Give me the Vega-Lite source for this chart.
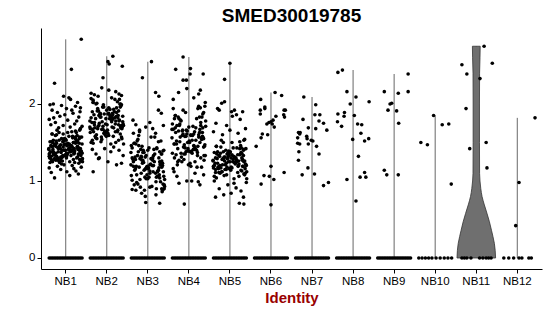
{
"$schema":"https://vega.github.io/schema/vega-lite/v6.json",
"width":501,"height":241,
"autosize":{"type":"none"},
"padding":{"left":41,"top":28,"right":8,"bottom":47},
"background":"white",
"title":{"text":"SMED30019785","fontSize":19,"font":"Liberation Sans","fontWeight":"bold","color":"black","anchor":"middle","frame":"group","offset":6,"baseline":"alphabetic","dy":19},
"config":{"view":{"stroke":null},"font":"Liberation Sans"},
"datasets":{
"vln":[
{"v":0,"lo":10.53,"hi":11.47},{"v":0.1,"lo":10.54,"hi":11.46},{"v":0.19,"lo":10.56,"hi":11.44},{"v":0.28,"lo":10.595,"hi":11.405},{"v":0.36,"lo":10.63,"hi":11.37},{"v":0.47,"lo":10.68,"hi":11.32},{"v":0.58,"lo":10.74,"hi":11.26},{"v":0.7,"lo":10.81,"hi":11.19},{"v":0.8,"lo":10.86,"hi":11.14},{"v":0.9,"lo":10.89,"hi":11.11},{"v":1.0,"lo":10.91,"hi":11.09},{"v":1.1,"lo":10.92,"hi":11.08},{"v":1.5,"lo":10.923,"hi":11.077},{"v":2.0,"lo":10.923,"hi":11.077},{"v":2.4,"lo":10.92,"hi":11.08},{"v":2.6,"lo":10.91,"hi":11.09},{"v":2.75,"lo":10.905,"hi":11.095}
],
"pts":[
{"g":"NB1","j":-0.41,"v":1.41},{"g":"NB1","j":-0.07,"v":1.33},{"g":"NB1","j":0.29,"v":1.52},{"g":"NB1","j":-0.24,"v":1.27},{"g":"NB1","j":0.12,"v":1.46},{"g":"NB1","j":0.38,"v":1.38},{"g":"NB1","j":-0.33,"v":1.61},{"g":"NB1","j":0.02,"v":1.30},{"g":"NB1","j":-0.15,"v":1.44},{"g":"NB1","j":0.21,"v":1.36},{"g":"NB1","j":0.33,"v":1.55},{"g":"NB1","j":-0.38,"v":1.24},{"g":"NB1","j":-0.02,"v":1.48},{"g":"NB1","j":0.17,"v":1.40},{"g":"NB1","j":-0.28,"v":1.34},{"g":"NB1","j":0.08,"v":1.58},{"g":"NB1","j":0.41,"v":1.29},{"g":"NB1","j":-0.19,"v":1.43},{"g":"NB1","j":0.26,"v":1.50},{"g":"NB1","j":-0.11,"v":1.37},{"g":"NB1","j":0.36,"v":1.26},{"g":"NB1","j":-0.35,"v":1.45},{"g":"NB1","j":0.05,"v":1.63},{"g":"NB1","j":-0.22,"v":1.32},{"g":"NB1","j":0.14,"v":1.39},{"g":"NB1","j":-0.04,"v":1.47},{"g":"NB1","j":0.31,"v":1.35},{"g":"NB1","j":-0.30,"v":1.53},{"g":"NB1","j":0.19,"v":1.28},{"g":"NB1","j":-0.13,"v":1.42},{"g":"NB1","j":0.39,"v":1.57},{"g":"NB1","j":-0.09,"v":1.31},{"g":"NB1","j":0.24,"v":1.49},{"g":"NB1","j":-0.36,"v":1.38},{"g":"NB1","j":0.10,"v":1.25},{"g":"NB1","j":-0.17,"v":1.44},{"g":"NB1","j":0.34,"v":1.66},{"g":"NB1","j":-0.26,"v":1.34},{"g":"NB1","j":0.00,"v":1.40},{"g":"NB1","j":0.27,"v":1.51},
{"g":"NB1","j":-0.38,"v":1.51},{"g":"NB1","j":-0.04,"v":1.40},{"g":"NB1","j":0.32,"v":1.34},{"g":"NB1","j":-0.21,"v":1.66},{"g":"NB1","j":0.15,"v":1.44},{"g":"NB1","j":0.41,"v":1.25},{"g":"NB1","j":-0.30,"v":1.38},{"g":"NB1","j":0.05,"v":1.49},{"g":"NB1","j":-0.12,"v":1.31},{"g":"NB1","j":0.24,"v":1.57},{"g":"NB1","j":0.36,"v":1.42},{"g":"NB1","j":-0.35,"v":1.28},{"g":"NB1","j":0.01,"v":1.53},{"g":"NB1","j":0.20,"v":1.35},{"g":"NB1","j":-0.25,"v":1.47},{"g":"NB1","j":0.11,"v":1.39},{"g":"NB1","j":-0.40,"v":1.32},{"g":"NB1","j":-0.16,"v":1.63},{"g":"NB1","j":0.29,"v":1.45},{"g":"NB1","j":-0.08,"v":1.26},{"g":"NB1","j":0.39,"v":1.37},{"g":"NB1","j":-0.32,"v":1.50},{"g":"NB1","j":0.08,"v":1.43},{"g":"NB1","j":-0.19,"v":1.29},{"g":"NB1","j":0.17,"v":1.58},{"g":"NB1","j":-0.01,"v":1.34},{"g":"NB1","j":0.34,"v":1.40},{"g":"NB1","j":-0.27,"v":1.48},{"g":"NB1","j":0.22,"v":1.24},{"g":"NB1","j":-0.10,"v":1.55},{"g":"NB1","j":0.40,"v":1.36},{"g":"NB1","j":-0.06,"v":1.44},{"g":"NB1","j":0.27,"v":1.30},{"g":"NB1","j":-0.33,"v":1.61},{"g":"NB1","j":0.13,"v":1.38},{"g":"NB1","j":-0.14,"v":1.46},{"g":"NB1","j":0.37,"v":1.27},{"g":"NB1","j":-0.23,"v":1.52},{"g":"NB1","j":0.03,"v":1.33},{"g":"NB1","j":0.30,"v":1.41},
{"g":"NB1","j":0.34,"v":1.28},{"g":"NB1","j":-0.12,"v":1.47},{"g":"NB1","j":0.24,"v":1.65},{"g":"NB1","j":-0.29,"v":1.34},{"g":"NB1","j":0.07,"v":1.41},{"g":"NB1","j":0.33,"v":1.49},{"g":"NB1","j":-0.38,"v":1.37},{"g":"NB1","j":-0.03,"v":1.55},{"g":"NB1","j":-0.20,"v":1.30},{"g":"NB1","j":0.16,"v":1.44},{"g":"NB1","j":0.28,"v":1.59},{"g":"NB1","j":0.37,"v":1.33},{"g":"NB1","j":-0.07,"v":1.51},{"g":"NB1","j":0.12,"v":1.40},{"g":"NB1","j":-0.33,"v":1.27},{"g":"NB1","j":0.03,"v":1.46},{"g":"NB1","j":0.36,"v":1.68},{"g":"NB1","j":-0.24,"v":1.36},{"g":"NB1","j":0.21,"v":1.42},{"g":"NB1","j":-0.16,"v":1.53},{"g":"NB1","j":0.31,"v":1.43},{"g":"NB1","j":-0.40,"v":1.35},{"g":"NB1","j":0.00,"v":1.54},{"g":"NB1","j":-0.27,"v":1.29},{"g":"NB1","j":0.09,"v":1.48},{"g":"NB1","j":-0.09,"v":1.40},{"g":"NB1","j":0.26,"v":1.63},{"g":"NB1","j":-0.35,"v":1.32},{"g":"NB1","j":0.14,"v":1.46},{"g":"NB1","j":-0.18,"v":1.38},{"g":"NB1","j":0.34,"v":1.57},{"g":"NB1","j":-0.14,"v":1.26},{"g":"NB1","j":0.19,"v":1.50},{"g":"NB1","j":-0.41,"v":1.42},{"g":"NB1","j":0.05,"v":1.36},{"g":"NB1","j":-0.22,"v":1.60},{"g":"NB1","j":0.29,"v":1.31},{"g":"NB1","j":-0.31,"v":1.45},{"g":"NB1","j":-0.05,"v":1.52},{"g":"NB1","j":0.22,"v":1.39},
{"g":"NB1","j":0.40,"v":1.28},{"g":"NB1","j":0.09,"v":1.42},{"g":"NB1","j":-0.27,"v":1.34},{"g":"NB1","j":0.26,"v":1.53},{"g":"NB1","j":-0.10,"v":1.22},{"g":"NB1","j":-0.36,"v":1.46},{"g":"NB1","j":0.35,"v":1.38},{"g":"NB1","j":0.00,"v":1.32},{"g":"NB1","j":0.17,"v":1.56},{"g":"NB1","j":-0.19,"v":1.27},{"g":"NB1","j":-0.31,"v":1.41},{"g":"NB1","j":0.40,"v":1.48},{"g":"NB1","j":0.04,"v":1.35},{"g":"NB1","j":-0.15,"v":1.24},{"g":"NB1","j":0.30,"v":1.43},{"g":"NB1","j":-0.06,"v":1.61},{"g":"NB1","j":-0.39,"v":1.30},{"g":"NB1","j":0.21,"v":1.37},{"g":"NB1","j":-0.24,"v":1.45},{"g":"NB1","j":0.13,"v":1.33},{"g":"NB1","j":-0.34,"v":1.51},{"g":"NB1","j":0.37,"v":1.26},{"g":"NB1","j":-0.03,"v":1.40},{"g":"NB1","j":0.24,"v":1.55},{"g":"NB1","j":-0.12,"v":1.29},{"g":"NB1","j":0.06,"v":1.47},{"g":"NB1","j":-0.29,"v":1.36},{"g":"NB1","j":0.32,"v":1.23},{"g":"NB1","j":-0.17,"v":1.42},{"g":"NB1","j":0.15,"v":1.64},{"g":"NB1","j":-0.37,"v":1.32},{"g":"NB1","j":0.11,"v":1.38},{"g":"NB1","j":-0.22,"v":1.49},{"g":"NB1","j":0.38,"v":1.39},{"g":"NB1","j":-0.08,"v":1.31},{"g":"NB1","j":0.19,"v":1.50},{"g":"NB1","j":-0.32,"v":1.25},{"g":"NB1","j":0.28,"v":1.44},{"g":"NB1","j":0.02,"v":1.36},{"g":"NB1","j":-0.25,"v":1.59},
{"g":"NB1","j":0.38,"v":2.84},{"g":"NB1","j":0.14,"v":2.45},{"g":"NB1","j":-0.27,"v":2.27},{"g":"NB1","j":-0.38,"v":1.99},{"g":"NB1","j":-0.30,"v":2.00},{"g":"NB1","j":-0.10,"v":1.98},{"g":"NB1","j":0.12,"v":2.06},{"g":"NB1","j":0.24,"v":1.97},{"g":"NB1","j":0.36,"v":1.95},{"g":"NB1","j":-0.05,"v":2.10},{"g":"NB1","j":0.08,"v":2.08},{"g":"NB1","j":-0.33,"v":1.92},{"g":"NB1","j":0.02,"v":1.94},{"g":"NB1","j":0.29,"v":2.02},{"g":"NB1","j":-0.20,"v":1.89},{"g":"NB1","j":0.18,"v":1.88},{"g":"NB1","j":-0.40,"v":1.80},{"g":"NB1","j":-0.14,"v":1.84},{"g":"NB1","j":0.32,"v":1.83},{"g":"NB1","j":0.05,"v":1.79},{"g":"NB1","j":-0.25,"v":1.76},{"g":"NB1","j":0.22,"v":1.74},{"g":"NB1","j":-0.06,"v":1.72},{"g":"NB1","j":0.40,"v":1.71},{"g":"NB1","j":-0.36,"v":1.73},{"g":"NB1","j":0.11,"v":1.70},{"g":"NB1","j":-0.17,"v":1.69},{"g":"NB1","j":0.27,"v":1.78},{"g":"NB1","j":-0.02,"v":1.86},{"g":"NB1","j":0.35,"v":1.90},{"g":"NB1","j":-0.29,"v":1.82},{"g":"NB1","j":0.15,"v":1.92},{"g":"NB1","j":-0.27,"v":1.04},{"g":"NB1","j":-0.35,"v":1.11},{"g":"NB1","j":0.10,"v":1.07},{"g":"NB1","j":0.03,"v":1.12},{"g":"NB1","j":-0.12,"v":1.15},{"g":"NB1","j":0.25,"v":1.13},{"g":"NB1","j":0.38,"v":1.18},{"g":"NB1","j":-0.20,"v":1.19},{"g":"NB1","j":0.16,"v":1.20},{"g":"NB1","j":-0.40,"v":1.17},{"g":"NB1","j":0.31,"v":1.09},{"g":"NB1","j":-0.04,"v":1.21},{"g":"NB1","j":0.20,"v":1.16},

{"g":"NB2","j":-0.41,"v":1.78},{"g":"NB2","j":-0.07,"v":1.62},{"g":"NB2","j":0.29,"v":1.91},{"g":"NB2","j":-0.24,"v":1.55},{"g":"NB2","j":0.12,"v":1.83},{"g":"NB2","j":0.38,"v":1.70},{"g":"NB2","j":-0.33,"v":2.02},{"g":"NB2","j":0.02,"v":1.66},{"g":"NB2","j":-0.15,"v":1.87},{"g":"NB2","j":0.21,"v":1.74},{"g":"NB2","j":0.33,"v":1.96},{"g":"NB2","j":-0.38,"v":1.50},{"g":"NB2","j":-0.02,"v":1.81},{"g":"NB2","j":0.17,"v":1.69},{"g":"NB2","j":-0.28,"v":1.58},{"g":"NB2","j":0.08,"v":1.93},{"g":"NB2","j":0.41,"v":1.72},{"g":"NB2","j":-0.19,"v":1.85},{"g":"NB2","j":0.26,"v":1.64},{"g":"NB2","j":-0.11,"v":1.77},{"g":"NB2","j":0.36,"v":1.99},{"g":"NB2","j":-0.35,"v":1.53},{"g":"NB2","j":0.05,"v":1.88},{"g":"NB2","j":-0.22,"v":1.68},{"g":"NB2","j":0.14,"v":1.80},{"g":"NB2","j":-0.04,"v":1.60},{"g":"NB2","j":0.31,"v":2.06},{"g":"NB2","j":-0.30,"v":1.73},{"g":"NB2","j":0.19,"v":1.90},{"g":"NB2","j":-0.13,"v":1.57},{"g":"NB2","j":0.39,"v":1.84},{"g":"NB2","j":-0.09,"v":1.67},{"g":"NB2","j":0.24,"v":1.95},{"g":"NB2","j":-0.36,"v":1.76},{"g":"NB2","j":0.10,"v":1.48},{"g":"NB2","j":-0.17,"v":1.86},{"g":"NB2","j":0.34,"v":1.71},{"g":"NB2","j":-0.26,"v":2.00},{"g":"NB2","j":0.00,"v":1.63},{"g":"NB2","j":0.27,"v":1.82},
{"g":"NB2","j":-0.38,"v":1.82},{"g":"NB2","j":-0.04,"v":1.63},{"g":"NB2","j":0.32,"v":2.00},{"g":"NB2","j":-0.21,"v":1.71},{"g":"NB2","j":0.15,"v":1.86},{"g":"NB2","j":0.41,"v":1.48},{"g":"NB2","j":-0.30,"v":1.76},{"g":"NB2","j":0.05,"v":1.95},{"g":"NB2","j":-0.12,"v":1.67},{"g":"NB2","j":0.24,"v":1.84},{"g":"NB2","j":0.36,"v":1.57},{"g":"NB2","j":-0.35,"v":1.90},{"g":"NB2","j":0.01,"v":1.73},{"g":"NB2","j":0.20,"v":2.06},{"g":"NB2","j":-0.25,"v":1.60},{"g":"NB2","j":0.11,"v":1.80},{"g":"NB2","j":-0.40,"v":1.68},{"g":"NB2","j":-0.16,"v":1.88},{"g":"NB2","j":0.29,"v":1.53},{"g":"NB2","j":-0.08,"v":1.99},{"g":"NB2","j":0.39,"v":1.77},{"g":"NB2","j":-0.32,"v":1.64},{"g":"NB2","j":0.08,"v":1.85},{"g":"NB2","j":-0.19,"v":1.72},{"g":"NB2","j":0.17,"v":1.93},{"g":"NB2","j":-0.01,"v":1.58},{"g":"NB2","j":0.34,"v":1.69},{"g":"NB2","j":-0.27,"v":1.81},{"g":"NB2","j":0.22,"v":1.50},{"g":"NB2","j":-0.10,"v":1.96},{"g":"NB2","j":0.40,"v":1.74},{"g":"NB2","j":-0.06,"v":1.87},{"g":"NB2","j":0.27,"v":1.66},{"g":"NB2","j":-0.33,"v":2.02},{"g":"NB2","j":0.13,"v":1.70},{"g":"NB2","j":-0.14,"v":1.83},{"g":"NB2","j":0.37,"v":1.55},{"g":"NB2","j":-0.23,"v":1.91},{"g":"NB2","j":0.03,"v":1.62},{"g":"NB2","j":0.30,"v":1.78},
{"g":"NB2","j":0.34,"v":2.00},{"g":"NB2","j":-0.12,"v":1.54},{"g":"NB2","j":0.24,"v":1.89},{"g":"NB2","j":-0.29,"v":1.69},{"g":"NB2","j":0.07,"v":1.81},{"g":"NB2","j":0.33,"v":1.61},{"g":"NB2","j":-0.38,"v":2.07},{"g":"NB2","j":-0.03,"v":1.74},{"g":"NB2","j":-0.20,"v":1.91},{"g":"NB2","j":0.16,"v":1.58},{"g":"NB2","j":0.28,"v":1.85},{"g":"NB2","j":0.37,"v":1.68},{"g":"NB2","j":-0.07,"v":1.96},{"g":"NB2","j":0.12,"v":1.77},{"g":"NB2","j":-0.33,"v":1.49},{"g":"NB2","j":0.03,"v":1.87},{"g":"NB2","j":0.36,"v":1.72},{"g":"NB2","j":-0.24,"v":2.01},{"g":"NB2","j":0.21,"v":1.64},{"g":"NB2","j":-0.16,"v":1.83},{"g":"NB2","j":0.31,"v":1.79},{"g":"NB2","j":-0.40,"v":1.63},{"g":"NB2","j":0.00,"v":1.92},{"g":"NB2","j":-0.27,"v":1.56},{"g":"NB2","j":0.09,"v":1.84},{"g":"NB2","j":-0.09,"v":1.71},{"g":"NB2","j":0.26,"v":2.03},{"g":"NB2","j":-0.35,"v":1.67},{"g":"NB2","j":0.14,"v":1.88},{"g":"NB2","j":-0.18,"v":1.75},{"g":"NB2","j":0.34,"v":1.97},{"g":"NB2","j":-0.14,"v":1.51},{"g":"NB2","j":0.19,"v":1.82},{"g":"NB2","j":-0.41,"v":1.70},{"g":"NB2","j":0.05,"v":1.59},{"g":"NB2","j":-0.22,"v":1.94},{"g":"NB2","j":0.29,"v":1.73},{"g":"NB2","j":-0.31,"v":1.86},{"g":"NB2","j":-0.05,"v":1.65},{"g":"NB2","j":0.22,"v":1.78},
{"g":"NB2","j":0.15,"v":2.62},{"g":"NB2","j":0.03,"v":2.55},{"g":"NB2","j":0.06,"v":2.52},{"g":"NB2","j":0.38,"v":2.49},{"g":"NB2","j":-0.09,"v":2.34},{"g":"NB2","j":-0.38,"v":2.14},{"g":"NB2","j":-0.30,"v":2.12},{"g":"NB2","j":-0.21,"v":2.10},{"g":"NB2","j":0.30,"v":2.13},{"g":"NB2","j":0.36,"v":2.11},{"g":"NB2","j":0.05,"v":2.18},{"g":"NB2","j":-0.12,"v":2.21},{"g":"NB2","j":0.22,"v":2.16},{"g":"NB2","j":-0.33,"v":2.05},{"g":"NB2","j":0.12,"v":2.08},{"g":"NB2","j":-0.35,"v":1.41},{"g":"NB2","j":-0.26,"v":1.35},{"g":"NB2","j":-0.18,"v":1.30},{"g":"NB2","j":-0.33,"v":1.12},{"g":"NB2","j":0.24,"v":1.21},{"g":"NB2","j":0.36,"v":1.23},{"g":"NB2","j":0.03,"v":1.25},{"g":"NB2","j":0.10,"v":1.38},{"g":"NB2","j":-0.05,"v":1.42},{"g":"NB2","j":0.30,"v":1.40},{"g":"NB2","j":0.40,"v":1.33},{"g":"NB2","j":-0.20,"v":1.29},{"g":"NB2","j":0.17,"v":1.44},

{"g":"NB3","j":-0.41,"v":1.21},{"g":"NB3","j":-0.07,"v":1.05},{"g":"NB3","j":0.29,"v":1.38},{"g":"NB3","j":-0.24,"v":0.96},{"g":"NB3","j":0.12,"v":1.27},{"g":"NB3","j":0.38,"v":1.12},{"g":"NB3","j":-0.33,"v":1.49},{"g":"NB3","j":0.02,"v":1.17},{"g":"NB3","j":-0.15,"v":1.31},{"g":"NB3","j":0.21,"v":0.90},{"g":"NB3","j":0.33,"v":1.24},{"g":"NB3","j":-0.38,"v":1.43},{"g":"NB3","j":-0.02,"v":1.08},{"g":"NB3","j":0.17,"v":1.35},{"g":"NB3","j":-0.28,"v":1.19},{"g":"NB3","j":0.08,"v":1.57},{"g":"NB3","j":0.41,"v":1.02},{"g":"NB3","j":-0.19,"v":1.29},{"g":"NB3","j":0.26,"v":1.14},{"g":"NB3","j":-0.11,"v":1.40},{"g":"NB3","j":0.36,"v":0.88},{"g":"NB3","j":-0.35,"v":1.25},{"g":"NB3","j":0.05,"v":1.10},{"g":"NB3","j":-0.22,"v":1.46},{"g":"NB3","j":0.14,"v":1.20},{"g":"NB3","j":-0.04,"v":1.33},{"g":"NB3","j":0.31,"v":0.99},{"g":"NB3","j":-0.30,"v":1.16},{"g":"NB3","j":0.19,"v":1.62},{"g":"NB3","j":-0.13,"v":1.23},{"g":"NB3","j":0.39,"v":1.06},{"g":"NB3","j":-0.09,"v":1.37},{"g":"NB3","j":0.24,"v":1.13},{"g":"NB3","j":-0.36,"v":1.28},{"g":"NB3","j":0.10,"v":0.93},{"g":"NB3","j":-0.17,"v":1.41},{"g":"NB3","j":0.34,"v":1.18},{"g":"NB3","j":-0.26,"v":1.52},{"g":"NB3","j":0.00,"v":1.03},{"g":"NB3","j":0.27,"v":1.30},
{"g":"NB3","j":-0.38,"v":1.30},{"g":"NB3","j":-0.04,"v":1.03},{"g":"NB3","j":0.32,"v":1.52},{"g":"NB3","j":-0.21,"v":1.18},{"g":"NB3","j":0.15,"v":1.41},{"g":"NB3","j":0.41,"v":0.93},{"g":"NB3","j":-0.30,"v":1.28},{"g":"NB3","j":0.05,"v":1.13},{"g":"NB3","j":-0.12,"v":1.37},{"g":"NB3","j":0.24,"v":1.06},{"g":"NB3","j":0.36,"v":1.23},{"g":"NB3","j":-0.35,"v":1.62},{"g":"NB3","j":0.01,"v":1.16},{"g":"NB3","j":0.20,"v":0.99},{"g":"NB3","j":-0.25,"v":1.33},{"g":"NB3","j":0.11,"v":1.20},{"g":"NB3","j":-0.40,"v":1.46},{"g":"NB3","j":-0.16,"v":1.10},{"g":"NB3","j":0.29,"v":1.25},{"g":"NB3","j":-0.08,"v":0.88},{"g":"NB3","j":0.39,"v":1.40},{"g":"NB3","j":-0.32,"v":1.14},{"g":"NB3","j":0.08,"v":1.29},{"g":"NB3","j":-0.19,"v":1.02},{"g":"NB3","j":0.17,"v":1.57},{"g":"NB3","j":-0.01,"v":1.19},{"g":"NB3","j":0.34,"v":1.35},{"g":"NB3","j":-0.27,"v":1.08},{"g":"NB3","j":0.22,"v":1.43},{"g":"NB3","j":-0.10,"v":1.24},{"g":"NB3","j":0.40,"v":0.90},{"g":"NB3","j":-0.06,"v":1.31},{"g":"NB3","j":0.27,"v":1.17},{"g":"NB3","j":-0.33,"v":1.49},{"g":"NB3","j":0.13,"v":1.12},{"g":"NB3","j":-0.14,"v":1.27},{"g":"NB3","j":0.37,"v":0.96},{"g":"NB3","j":-0.23,"v":1.38},{"g":"NB3","j":0.03,"v":1.05},{"g":"NB3","j":0.30,"v":1.21},
{"g":"NB3","j":0.34,"v":0.90},{"g":"NB3","j":-0.12,"v":1.27},{"g":"NB3","j":0.24,"v":1.12},{"g":"NB3","j":-0.29,"v":1.48},{"g":"NB3","j":0.07,"v":1.22},{"g":"NB3","j":0.33,"v":1.35},{"g":"NB3","j":-0.38,"v":1.01},{"g":"NB3","j":-0.03,"v":1.18},{"g":"NB3","j":-0.20,"v":1.64},{"g":"NB3","j":0.16,"v":1.25},{"g":"NB3","j":0.28,"v":1.08},{"g":"NB3","j":0.37,"v":1.39},{"g":"NB3","j":-0.07,"v":1.15},{"g":"NB3","j":0.12,"v":1.30},{"g":"NB3","j":-0.33,"v":0.95},{"g":"NB3","j":0.03,"v":1.43},{"g":"NB3","j":0.36,"v":1.20},{"g":"NB3","j":-0.24,"v":1.54},{"g":"NB3","j":0.21,"v":1.05},{"g":"NB3","j":-0.16,"v":1.32},{"g":"NB3","j":0.31,"v":1.23},{"g":"NB3","j":-0.40,"v":1.07},{"g":"NB3","j":0.00,"v":1.40},{"g":"NB3","j":-0.27,"v":0.98},{"g":"NB3","j":0.09,"v":1.29},{"g":"NB3","j":-0.09,"v":1.14},{"g":"NB3","j":0.26,"v":1.51},{"g":"NB3","j":-0.35,"v":1.19},{"g":"NB3","j":0.14,"v":1.33},{"g":"NB3","j":-0.18,"v":0.92},{"g":"NB3","j":0.34,"v":1.26},{"g":"NB3","j":-0.14,"v":1.45},{"g":"NB3","j":0.19,"v":1.10},{"g":"NB3","j":-0.41,"v":1.37},{"g":"NB3","j":0.05,"v":1.21},{"g":"NB3","j":-0.22,"v":1.59},{"g":"NB3","j":0.29,"v":1.04},{"g":"NB3","j":-0.31,"v":1.31},{"g":"NB3","j":-0.05,"v":1.16},{"g":"NB3","j":0.22,"v":1.42},
{"g":"NB3","j":0.09,"v":2.55},{"g":"NB3","j":-0.13,"v":2.34},{"g":"NB3","j":0.19,"v":2.15},{"g":"NB3","j":0.27,"v":2.10},{"g":"NB3","j":0.26,"v":1.92},{"g":"NB3","j":0.33,"v":1.88},{"g":"NB3","j":-0.36,"v":1.79},{"g":"NB3","j":-0.29,"v":1.73},{"g":"NB3","j":0.05,"v":1.76},{"g":"NB3","j":-0.05,"v":1.70},{"g":"NB3","j":0.12,"v":1.68},{"g":"NB3","j":-0.20,"v":1.66},{"g":"NB3","j":0.38,"v":1.72},{"g":"NB3","j":-0.05,"v":0.72},{"g":"NB3","j":0.29,"v":0.71},{"g":"NB3","j":-0.06,"v":0.80},{"g":"NB3","j":-0.38,"v":0.89},{"g":"NB3","j":-0.29,"v":0.88},{"g":"NB3","j":0.20,"v":0.82},{"g":"NB3","j":0.35,"v":0.86},{"g":"NB3","j":-0.15,"v":0.84},{"g":"NB3","j":0.05,"v":0.92},{"g":"NB3","j":0.40,"v":0.95},

{"g":"NB4","j":-0.41,"v":1.56},{"g":"NB4","j":-0.07,"v":1.38},{"g":"NB4","j":0.29,"v":1.72},{"g":"NB4","j":-0.24,"v":1.27},{"g":"NB4","j":0.12,"v":1.61},{"g":"NB4","j":0.38,"v":1.45},{"g":"NB4","j":-0.33,"v":1.85},{"g":"NB4","j":0.02,"v":1.50},{"g":"NB4","j":-0.15,"v":1.66},{"g":"NB4","j":0.21,"v":1.33},{"g":"NB4","j":0.33,"v":1.58},{"g":"NB4","j":-0.38,"v":1.94},{"g":"NB4","j":-0.02,"v":1.42},{"g":"NB4","j":0.17,"v":1.69},{"g":"NB4","j":-0.28,"v":1.21},{"g":"NB4","j":0.08,"v":1.53},{"g":"NB4","j":0.41,"v":1.78},{"g":"NB4","j":-0.19,"v":1.36},{"g":"NB4","j":0.26,"v":1.63},{"g":"NB4","j":-0.11,"v":1.47},{"g":"NB4","j":0.36,"v":1.89},{"g":"NB4","j":-0.35,"v":1.30},{"g":"NB4","j":0.05,"v":1.59},{"g":"NB4","j":-0.22,"v":1.74},{"g":"NB4","j":0.14,"v":1.41},{"g":"NB4","j":-0.04,"v":1.65},{"g":"NB4","j":0.31,"v":1.18},{"g":"NB4","j":-0.30,"v":1.52},{"g":"NB4","j":0.19,"v":1.81},{"g":"NB4","j":-0.13,"v":1.44},{"g":"NB4","j":0.39,"v":1.97},{"g":"NB4","j":-0.09,"v":1.35},{"g":"NB4","j":0.24,"v":1.60},{"g":"NB4","j":-0.36,"v":1.48},{"g":"NB4","j":0.10,"v":1.71},{"g":"NB4","j":-0.17,"v":1.25},{"g":"NB4","j":0.34,"v":1.57},{"g":"NB4","j":-0.26,"v":1.83},{"g":"NB4","j":0.00,"v":1.39},{"g":"NB4","j":0.27,"v":1.67},
{"g":"NB4","j":-0.38,"v":1.67},{"g":"NB4","j":-0.04,"v":1.39},{"g":"NB4","j":0.32,"v":1.83},{"g":"NB4","j":-0.21,"v":1.57},{"g":"NB4","j":0.15,"v":1.25},{"g":"NB4","j":0.41,"v":1.71},{"g":"NB4","j":-0.30,"v":1.48},{"g":"NB4","j":0.05,"v":1.60},{"g":"NB4","j":-0.12,"v":1.35},{"g":"NB4","j":0.24,"v":1.97},{"g":"NB4","j":0.36,"v":1.44},{"g":"NB4","j":-0.35,"v":1.81},{"g":"NB4","j":0.01,"v":1.52},{"g":"NB4","j":0.20,"v":1.18},{"g":"NB4","j":-0.25,"v":1.65},{"g":"NB4","j":0.11,"v":1.41},{"g":"NB4","j":-0.40,"v":1.74},{"g":"NB4","j":-0.16,"v":1.59},{"g":"NB4","j":0.29,"v":1.30},{"g":"NB4","j":-0.08,"v":1.89},{"g":"NB4","j":0.39,"v":1.47},{"g":"NB4","j":-0.32,"v":1.63},{"g":"NB4","j":0.08,"v":1.36},{"g":"NB4","j":-0.19,"v":1.78},{"g":"NB4","j":0.17,"v":1.53},{"g":"NB4","j":-0.01,"v":1.21},{"g":"NB4","j":0.34,"v":1.69},{"g":"NB4","j":-0.27,"v":1.42},{"g":"NB4","j":0.22,"v":1.94},{"g":"NB4","j":-0.10,"v":1.58},{"g":"NB4","j":0.40,"v":1.33},{"g":"NB4","j":-0.06,"v":1.66},{"g":"NB4","j":0.27,"v":1.50},{"g":"NB4","j":-0.33,"v":1.85},{"g":"NB4","j":0.13,"v":1.45},{"g":"NB4","j":-0.14,"v":1.61},{"g":"NB4","j":0.37,"v":1.27},{"g":"NB4","j":-0.23,"v":1.72},{"g":"NB4","j":0.03,"v":1.38},{"g":"NB4","j":0.30,"v":1.56},
{"g":"NB4","j":0.34,"v":1.87},{"g":"NB4","j":-0.12,"v":1.28},{"g":"NB4","j":0.24,"v":1.57},{"g":"NB4","j":-0.29,"v":1.72},{"g":"NB4","j":0.07,"v":1.39},{"g":"NB4","j":0.33,"v":1.63},{"g":"NB4","j":-0.38,"v":1.16},{"g":"NB4","j":-0.03,"v":1.50},{"g":"NB4","j":-0.20,"v":1.79},{"g":"NB4","j":0.16,"v":1.42},{"g":"NB4","j":0.28,"v":1.95},{"g":"NB4","j":0.37,"v":1.33},{"g":"NB4","j":-0.07,"v":1.58},{"g":"NB4","j":0.12,"v":1.46},{"g":"NB4","j":-0.33,"v":1.69},{"g":"NB4","j":0.03,"v":1.23},{"g":"NB4","j":0.36,"v":1.55},{"g":"NB4","j":-0.24,"v":1.81},{"g":"NB4","j":0.21,"v":1.37},{"g":"NB4","j":-0.16,"v":1.65},{"g":"NB4","j":0.31,"v":1.54},{"g":"NB4","j":-0.40,"v":1.36},{"g":"NB4","j":0.00,"v":1.70},{"g":"NB4","j":-0.27,"v":1.25},{"g":"NB4","j":0.09,"v":1.59},{"g":"NB4","j":-0.09,"v":1.43},{"g":"NB4","j":0.26,"v":1.83},{"g":"NB4","j":-0.35,"v":1.48},{"g":"NB4","j":0.14,"v":1.64},{"g":"NB4","j":-0.18,"v":1.31},{"g":"NB4","j":0.34,"v":1.56},{"g":"NB4","j":-0.14,"v":1.92},{"g":"NB4","j":0.19,"v":1.40},{"g":"NB4","j":-0.41,"v":1.67},{"g":"NB4","j":0.05,"v":1.19},{"g":"NB4","j":-0.22,"v":1.51},{"g":"NB4","j":0.29,"v":1.76},{"g":"NB4","j":-0.31,"v":1.34},{"g":"NB4","j":-0.05,"v":1.61},{"g":"NB4","j":0.22,"v":1.45},
{"g":"NB4","j":-0.14,"v":2.61},{"g":"NB4","j":-0.32,"v":2.45},{"g":"NB4","j":0.04,"v":2.46},{"g":"NB4","j":0.03,"v":2.39},{"g":"NB4","j":-0.14,"v":2.31},{"g":"NB4","j":-0.06,"v":2.31},{"g":"NB4","j":0.35,"v":2.39},{"g":"NB4","j":0.28,"v":2.18},{"g":"NB4","j":0.24,"v":2.13},{"g":"NB4","j":-0.25,"v":2.15},{"g":"NB4","j":-0.38,"v":2.06},{"g":"NB4","j":0.12,"v":2.08},{"g":"NB4","j":-0.05,"v":2.20},{"g":"NB4","j":0.40,"v":2.02},{"g":"NB4","j":-0.11,"v":0.70},{"g":"NB4","j":-0.24,"v":0.97},{"g":"NB4","j":-0.29,"v":1.06},{"g":"NB4","j":0.23,"v":0.99},{"g":"NB4","j":0.27,"v":0.95},{"g":"NB4","j":-0.05,"v":1.00},{"g":"NB4","j":0.07,"v":1.00},{"g":"NB4","j":0.36,"v":1.08},{"g":"NB4","j":-0.36,"v":1.12},{"g":"NB4","j":0.15,"v":1.10},

{"g":"NB5","j":-0.41,"v":1.27},{"g":"NB5","j":-0.07,"v":1.18},{"g":"NB5","j":0.29,"v":1.36},{"g":"NB5","j":-0.24,"v":1.10},{"g":"NB5","j":0.12,"v":1.31},{"g":"NB5","j":0.38,"v":1.22},{"g":"NB5","j":-0.33,"v":1.45},{"g":"NB5","j":0.02,"v":1.14},{"g":"NB5","j":-0.15,"v":1.29},{"g":"NB5","j":0.21,"v":1.20},{"g":"NB5","j":0.33,"v":1.40},{"g":"NB5","j":-0.38,"v":1.06},{"g":"NB5","j":-0.02,"v":1.33},{"g":"NB5","j":0.17,"v":1.25},{"g":"NB5","j":-0.28,"v":1.16},{"g":"NB5","j":0.08,"v":1.43},{"g":"NB5","j":0.41,"v":1.12},{"g":"NB5","j":-0.19,"v":1.28},{"g":"NB5","j":0.26,"v":1.35},{"g":"NB5","j":-0.11,"v":1.21},{"g":"NB5","j":0.36,"v":1.08},{"g":"NB5","j":-0.35,"v":1.30},{"g":"NB5","j":0.05,"v":1.50},{"g":"NB5","j":-0.22,"v":1.17},{"g":"NB5","j":0.14,"v":1.24},{"g":"NB5","j":-0.04,"v":1.32},{"g":"NB5","j":0.31,"v":1.19},{"g":"NB5","j":-0.30,"v":1.38},{"g":"NB5","j":0.19,"v":1.11},{"g":"NB5","j":-0.13,"v":1.26},{"g":"NB5","j":0.39,"v":1.42},{"g":"NB5","j":-0.09,"v":1.15},{"g":"NB5","j":0.24,"v":1.34},{"g":"NB5","j":-0.36,"v":1.23},{"g":"NB5","j":0.10,"v":1.03},{"g":"NB5","j":-0.17,"v":1.29},{"g":"NB5","j":0.34,"v":1.53},{"g":"NB5","j":-0.26,"v":1.19},{"g":"NB5","j":0.00,"v":1.25},{"g":"NB5","j":0.27,"v":1.37},
{"g":"NB5","j":-0.38,"v":1.37},{"g":"NB5","j":-0.04,"v":1.25},{"g":"NB5","j":0.32,"v":1.19},{"g":"NB5","j":-0.21,"v":1.53},{"g":"NB5","j":0.15,"v":1.29},{"g":"NB5","j":0.41,"v":1.03},{"g":"NB5","j":-0.30,"v":1.23},{"g":"NB5","j":0.05,"v":1.34},{"g":"NB5","j":-0.12,"v":1.15},{"g":"NB5","j":0.24,"v":1.42},{"g":"NB5","j":0.36,"v":1.26},{"g":"NB5","j":-0.35,"v":1.11},{"g":"NB5","j":0.01,"v":1.38},{"g":"NB5","j":0.20,"v":1.19},{"g":"NB5","j":-0.25,"v":1.32},{"g":"NB5","j":0.11,"v":1.24},{"g":"NB5","j":-0.40,"v":1.17},{"g":"NB5","j":-0.16,"v":1.50},{"g":"NB5","j":0.29,"v":1.30},{"g":"NB5","j":-0.08,"v":1.08},{"g":"NB5","j":0.39,"v":1.21},{"g":"NB5","j":-0.32,"v":1.35},{"g":"NB5","j":0.08,"v":1.28},{"g":"NB5","j":-0.19,"v":1.12},{"g":"NB5","j":0.17,"v":1.43},{"g":"NB5","j":-0.01,"v":1.16},{"g":"NB5","j":0.34,"v":1.25},{"g":"NB5","j":-0.27,"v":1.33},{"g":"NB5","j":0.22,"v":1.06},{"g":"NB5","j":-0.10,"v":1.40},{"g":"NB5","j":0.40,"v":1.20},{"g":"NB5","j":-0.06,"v":1.29},{"g":"NB5","j":0.27,"v":1.14},{"g":"NB5","j":-0.33,"v":1.45},{"g":"NB5","j":0.13,"v":1.22},{"g":"NB5","j":-0.14,"v":1.31},{"g":"NB5","j":0.37,"v":1.10},{"g":"NB5","j":-0.23,"v":1.36},{"g":"NB5","j":0.03,"v":1.18},{"g":"NB5","j":0.30,"v":1.27},
{"g":"NB5","j":0.34,"v":1.09},{"g":"NB5","j":-0.12,"v":1.31},{"g":"NB5","j":0.24,"v":1.51},{"g":"NB5","j":-0.29,"v":1.18},{"g":"NB5","j":0.07,"v":1.25},{"g":"NB5","j":0.33,"v":1.33},{"g":"NB5","j":-0.38,"v":1.20},{"g":"NB5","j":-0.03,"v":1.39},{"g":"NB5","j":-0.20,"v":1.12},{"g":"NB5","j":0.16,"v":1.27},{"g":"NB5","j":0.28,"v":1.43},{"g":"NB5","j":0.37,"v":1.16},{"g":"NB5","j":-0.07,"v":1.35},{"g":"NB5","j":0.12,"v":1.24},{"g":"NB5","j":-0.33,"v":1.04},{"g":"NB5","j":0.03,"v":1.30},{"g":"NB5","j":0.36,"v":1.54},{"g":"NB5","j":-0.24,"v":1.20},{"g":"NB5","j":0.21,"v":1.26},{"g":"NB5","j":-0.16,"v":1.38},{"g":"NB5","j":0.31,"v":1.28},{"g":"NB5","j":-0.40,"v":1.19},{"g":"NB5","j":0.00,"v":1.37},{"g":"NB5","j":-0.27,"v":1.11},{"g":"NB5","j":0.09,"v":1.32},{"g":"NB5","j":-0.09,"v":1.23},{"g":"NB5","j":0.26,"v":1.46},{"g":"NB5","j":-0.35,"v":1.15},{"g":"NB5","j":0.14,"v":1.30},{"g":"NB5","j":-0.18,"v":1.21},{"g":"NB5","j":0.34,"v":1.41},{"g":"NB5","j":-0.14,"v":1.07},{"g":"NB5","j":0.19,"v":1.34},{"g":"NB5","j":-0.41,"v":1.26},{"g":"NB5","j":0.05,"v":1.17},{"g":"NB5","j":-0.22,"v":1.44},{"g":"NB5","j":0.29,"v":1.13},{"g":"NB5","j":-0.31,"v":1.29},{"g":"NB5","j":-0.05,"v":1.36},{"g":"NB5","j":0.22,"v":1.22},
{"g":"NB5","j":0.00,"v":2.53},{"g":"NB5","j":-0.13,"v":2.32},{"g":"NB5","j":0.11,"v":1.92},{"g":"NB5","j":0.04,"v":1.90},{"g":"NB5","j":0.16,"v":1.86},{"g":"NB5","j":0.06,"v":1.84},{"g":"NB5","j":0.31,"v":1.90},{"g":"NB5","j":-0.30,"v":1.94},{"g":"NB5","j":-0.26,"v":1.92},{"g":"NB5","j":-0.34,"v":1.75},{"g":"NB5","j":-0.20,"v":2.01},{"g":"NB5","j":-0.13,"v":2.03},{"g":"NB5","j":0.25,"v":1.80},{"g":"NB5","j":-0.08,"v":1.72},{"g":"NB5","j":0.38,"v":1.68},{"g":"NB5","j":-0.40,"v":1.64},{"g":"NB5","j":0.20,"v":1.62},{"g":"NB5","j":-0.18,"v":1.60},{"g":"NB5","j":0.00,"v":1.66},{"g":"NB5","j":-0.35,"v":0.79},{"g":"NB5","j":0.23,"v":0.71},{"g":"NB5","j":0.34,"v":0.70},{"g":"NB5","j":-0.15,"v":0.82},{"g":"NB5","j":0.03,"v":0.84},{"g":"NB5","j":0.33,"v":0.79},{"g":"NB5","j":0.27,"v":0.87},{"g":"NB5","j":0.15,"v":0.91},{"g":"NB5","j":-0.26,"v":0.90},{"g":"NB5","j":-0.05,"v":0.95},{"g":"NB5","j":0.40,"v":0.98},{"g":"NB5","j":-0.38,"v":1.00},{"g":"NB5","j":0.10,"v":0.97},

{"g":"NB6","j":-0.25,"v":2.06},{"g":"NB6","j":-0.26,"v":1.92},{"g":"NB6","j":-0.26,"v":1.87},{"g":"NB6","j":-0.15,"v":1.96},{"g":"NB6","j":-0.15,"v":1.94},{"g":"NB6","j":0.10,"v":2.15},{"g":"NB6","j":0.26,"v":2.11},{"g":"NB6","j":0.32,"v":1.92},{"g":"NB6","j":0.35,"v":1.92},{"g":"NB6","j":0.31,"v":1.86},{"g":"NB6","j":0.33,"v":1.83},{"g":"NB6","j":0.12,"v":1.84},{"g":"NB6","j":-0.10,"v":1.74},{"g":"NB6","j":-0.05,"v":1.76},{"g":"NB6","j":0.00,"v":1.77},{"g":"NB6","j":0.05,"v":1.79},{"g":"NB6","j":0.03,"v":1.74},{"g":"NB6","j":0.08,"v":1.70},{"g":"NB6","j":-0.21,"v":1.61},{"g":"NB6","j":-0.24,"v":1.56},{"g":"NB6","j":-0.08,"v":1.60},{"g":"NB6","j":-0.36,"v":1.45},{"g":"NB6","j":0.00,"v":1.19},{"g":"NB6","j":-0.17,"v":1.07},{"g":"NB6","j":-0.04,"v":1.06},{"g":"NB6","j":0.07,"v":1.02},{"g":"NB6","j":-0.24,"v":0.96},{"g":"NB6","j":0.32,"v":1.11},{"g":"NB6","j":0.00,"v":0.69},

{"g":"NB7","j":-0.20,"v":2.09},{"g":"NB7","j":0.09,"v":1.99},{"g":"NB7","j":0.07,"v":1.86},{"g":"NB7","j":0.19,"v":1.86},{"g":"NB7","j":-0.22,"v":1.80},{"g":"NB7","j":0.17,"v":1.78},{"g":"NB7","j":0.28,"v":1.75},{"g":"NB7","j":-0.09,"v":1.69},{"g":"NB7","j":0.09,"v":1.68},{"g":"NB7","j":0.36,"v":1.66},{"g":"NB7","j":-0.33,"v":1.63},{"g":"NB7","j":-0.29,"v":1.63},{"g":"NB7","j":-0.30,"v":1.61},{"g":"NB7","j":-0.35,"v":1.56},{"g":"NB7","j":-0.13,"v":1.58},{"g":"NB7","j":-0.12,"v":1.55},{"g":"NB7","j":-0.02,"v":1.53},{"g":"NB7","j":0.02,"v":1.52},{"g":"NB7","j":-0.35,"v":1.49},{"g":"NB7","j":-0.30,"v":1.48},{"g":"NB7","j":-0.09,"v":1.48},{"g":"NB7","j":0.11,"v":1.45},{"g":"NB7","j":-0.32,"v":1.38},{"g":"NB7","j":0.17,"v":1.35},{"g":"NB7","j":-0.33,"v":1.27},{"g":"NB7","j":-0.10,"v":1.17},{"g":"NB7","j":0.06,"v":1.09},{"g":"NB7","j":-0.24,"v":1.08},{"g":"NB7","j":0.28,"v":0.94},{"g":"NB7","j":0.40,"v":0.98},

{"g":"NB8","j":-0.37,"v":2.41},{"g":"NB8","j":-0.26,"v":2.44},{"g":"NB8","j":-0.15,"v":2.16},{"g":"NB8","j":0.07,"v":2.09},{"g":"NB8","j":0.39,"v":2.03},{"g":"NB8","j":-0.07,"v":2.00},{"g":"NB8","j":-0.37,"v":1.87},{"g":"NB8","j":-0.21,"v":1.89},{"g":"NB8","j":-0.22,"v":1.84},{"g":"NB8","j":0.03,"v":1.85},{"g":"NB8","j":-0.38,"v":1.77},{"g":"NB8","j":-0.28,"v":1.71},{"g":"NB8","j":0.11,"v":1.74},{"g":"NB8","j":0.21,"v":1.73},{"g":"NB8","j":0.19,"v":1.62},{"g":"NB8","j":-0.01,"v":1.54},{"g":"NB8","j":0.38,"v":1.55},{"g":"NB8","j":0.28,"v":1.52},{"g":"NB8","j":0.13,"v":1.32},{"g":"NB8","j":-0.15,"v":1.02},{"g":"NB8","j":0.28,"v":1.11},{"g":"NB8","j":0.17,"v":1.05},{"g":"NB8","j":0.31,"v":1.05},{"g":"NB8","j":0.07,"v":0.74},

{"g":"NB9","j":0.34,"v":2.39},{"g":"NB9","j":-0.24,"v":2.16},{"g":"NB9","j":0.10,"v":2.14},{"g":"NB9","j":0.34,"v":2.16},{"g":"NB9","j":-0.10,"v":2.00},{"g":"NB9","j":-0.06,"v":2.01},{"g":"NB9","j":-0.15,"v":1.92},{"g":"NB9","j":0.06,"v":1.91},{"g":"NB9","j":0.11,"v":1.75},{"g":"NB9","j":-0.24,"v":1.14},{"g":"NB9","j":-0.18,"v":1.08},{"g":"NB9","j":0.10,"v":1.08},

{"g":"NB10","j":-0.04,"v":1.85},{"g":"NB10","j":0.17,"v":1.73},{"g":"NB10","j":0.33,"v":1.74},{"g":"NB10","j":-0.35,"v":1.50},{"g":"NB10","j":-0.19,"v":1.47},{"g":"NB10","j":0.39,"v":0.96},
{"g":"NB10","j":-0.40,"v":0},{"g":"NB10","j":-0.32,"v":0},{"g":"NB10","j":-0.24,"v":0},{"g":"NB10","j":-0.16,"v":0},{"g":"NB10","j":-0.08,"v":0},{"g":"NB10","j":0.02,"v":0},{"g":"NB10","j":0.12,"v":0},{"g":"NB10","j":0.22,"v":0},{"g":"NB10","j":0.31,"v":0},{"g":"NB10","j":0.40,"v":0},

{"g":"NB11","j":0.19,"v":2.75},{"g":"NB11","j":-0.35,"v":2.51},{"g":"NB11","j":0.39,"v":2.53},{"g":"NB11","j":-0.23,"v":2.39},{"g":"NB11","j":0.09,"v":2.33},{"g":"NB11","j":-0.25,"v":1.94},{"g":"NB11","j":-0.16,"v":1.42},{"g":"NB11","j":0.24,"v":1.50},{"g":"NB11","j":0.26,"v":1.17},
{"g":"NB11","j":-0.35,"v":0},{"g":"NB11","j":-0.29,"v":0},{"g":"NB11","j":-0.23,"v":0},{"g":"NB11","j":-0.13,"v":0},{"g":"NB11","j":0.08,"v":0},{"g":"NB11","j":0.16,"v":0},{"g":"NB11","j":0.24,"v":0},{"g":"NB11","j":0.30,"v":0},{"g":"NB11","j":0.36,"v":0},

{"g":"NB12","j":0.43,"v":1.82},{"g":"NB12","j":0.04,"v":0.98},{"g":"NB12","j":-0.04,"v":0.42},
{"g":"NB12","j":-0.33,"v":0},{"g":"NB12","j":-0.21,"v":0},{"g":"NB12","j":-0.09,"v":0},{"g":"NB12","j":0.04,"v":0},{"g":"NB12","j":0.11,"v":0},{"g":"NB12","j":0.28,"v":0},{"g":"NB12","j":0.34,"v":0},

{"g":"NB1","j":-0.40,"v":0},{"g":"NB1","j":-0.36,"v":0},{"g":"NB1","j":-0.32,"v":0},{"g":"NB1","j":-0.28,"v":0},{"g":"NB1","j":-0.24,"v":0},{"g":"NB1","j":-0.20,"v":0},{"g":"NB1","j":-0.16,"v":0},{"g":"NB1","j":-0.12,"v":0},{"g":"NB1","j":-0.08,"v":0},{"g":"NB1","j":-0.04,"v":0},{"g":"NB1","j":0.00,"v":0},{"g":"NB1","j":0.04,"v":0},{"g":"NB1","j":0.08,"v":0},{"g":"NB1","j":0.12,"v":0},{"g":"NB1","j":0.16,"v":0},{"g":"NB1","j":0.20,"v":0},{"g":"NB1","j":0.24,"v":0},{"g":"NB1","j":0.28,"v":0},{"g":"NB1","j":0.32,"v":0},{"g":"NB1","j":0.36,"v":0},{"g":"NB1","j":0.40,"v":0},
{"g":"NB2","j":-0.40,"v":0},{"g":"NB2","j":-0.36,"v":0},{"g":"NB2","j":-0.32,"v":0},{"g":"NB2","j":-0.28,"v":0},{"g":"NB2","j":-0.24,"v":0},{"g":"NB2","j":-0.20,"v":0},{"g":"NB2","j":-0.16,"v":0},{"g":"NB2","j":-0.12,"v":0},{"g":"NB2","j":-0.08,"v":0},{"g":"NB2","j":-0.04,"v":0},{"g":"NB2","j":0.00,"v":0},{"g":"NB2","j":0.04,"v":0},{"g":"NB2","j":0.08,"v":0},{"g":"NB2","j":0.12,"v":0},{"g":"NB2","j":0.16,"v":0},{"g":"NB2","j":0.20,"v":0},{"g":"NB2","j":0.24,"v":0},{"g":"NB2","j":0.28,"v":0},{"g":"NB2","j":0.32,"v":0},{"g":"NB2","j":0.36,"v":0},{"g":"NB2","j":0.40,"v":0},
{"g":"NB3","j":-0.40,"v":0},{"g":"NB3","j":-0.36,"v":0},{"g":"NB3","j":-0.32,"v":0},{"g":"NB3","j":-0.28,"v":0},{"g":"NB3","j":-0.24,"v":0},{"g":"NB3","j":-0.20,"v":0},{"g":"NB3","j":-0.16,"v":0},{"g":"NB3","j":-0.12,"v":0},{"g":"NB3","j":-0.08,"v":0},{"g":"NB3","j":-0.04,"v":0},{"g":"NB3","j":0.00,"v":0},{"g":"NB3","j":0.04,"v":0},{"g":"NB3","j":0.08,"v":0},{"g":"NB3","j":0.12,"v":0},{"g":"NB3","j":0.16,"v":0},{"g":"NB3","j":0.20,"v":0},{"g":"NB3","j":0.24,"v":0},{"g":"NB3","j":0.28,"v":0},{"g":"NB3","j":0.32,"v":0},{"g":"NB3","j":0.36,"v":0},{"g":"NB3","j":0.40,"v":0},
{"g":"NB4","j":-0.40,"v":0},{"g":"NB4","j":-0.36,"v":0},{"g":"NB4","j":-0.32,"v":0},{"g":"NB4","j":-0.28,"v":0},{"g":"NB4","j":-0.24,"v":0},{"g":"NB4","j":-0.20,"v":0},{"g":"NB4","j":-0.16,"v":0},{"g":"NB4","j":-0.12,"v":0},{"g":"NB4","j":-0.08,"v":0},{"g":"NB4","j":-0.04,"v":0},{"g":"NB4","j":0.00,"v":0},{"g":"NB4","j":0.04,"v":0},{"g":"NB4","j":0.08,"v":0},{"g":"NB4","j":0.12,"v":0},{"g":"NB4","j":0.16,"v":0},{"g":"NB4","j":0.20,"v":0},{"g":"NB4","j":0.24,"v":0},{"g":"NB4","j":0.28,"v":0},{"g":"NB4","j":0.32,"v":0},{"g":"NB4","j":0.36,"v":0},{"g":"NB4","j":0.40,"v":0},
{"g":"NB5","j":-0.40,"v":0},{"g":"NB5","j":-0.36,"v":0},{"g":"NB5","j":-0.32,"v":0},{"g":"NB5","j":-0.28,"v":0},{"g":"NB5","j":-0.24,"v":0},{"g":"NB5","j":-0.20,"v":0},{"g":"NB5","j":-0.16,"v":0},{"g":"NB5","j":-0.12,"v":0},{"g":"NB5","j":-0.08,"v":0},{"g":"NB5","j":-0.04,"v":0},{"g":"NB5","j":0.00,"v":0},{"g":"NB5","j":0.04,"v":0},{"g":"NB5","j":0.08,"v":0},{"g":"NB5","j":0.12,"v":0},{"g":"NB5","j":0.16,"v":0},{"g":"NB5","j":0.20,"v":0},{"g":"NB5","j":0.24,"v":0},{"g":"NB5","j":0.28,"v":0},{"g":"NB5","j":0.32,"v":0},{"g":"NB5","j":0.36,"v":0},{"g":"NB5","j":0.40,"v":0},
{"g":"NB6","j":-0.40,"v":0},{"g":"NB6","j":-0.36,"v":0},{"g":"NB6","j":-0.32,"v":0},{"g":"NB6","j":-0.28,"v":0},{"g":"NB6","j":-0.24,"v":0},{"g":"NB6","j":-0.20,"v":0},{"g":"NB6","j":-0.16,"v":0},{"g":"NB6","j":-0.12,"v":0},{"g":"NB6","j":-0.08,"v":0},{"g":"NB6","j":-0.04,"v":0},{"g":"NB6","j":0.00,"v":0},{"g":"NB6","j":0.04,"v":0},{"g":"NB6","j":0.08,"v":0},{"g":"NB6","j":0.12,"v":0},{"g":"NB6","j":0.16,"v":0},{"g":"NB6","j":0.20,"v":0},{"g":"NB6","j":0.24,"v":0},{"g":"NB6","j":0.28,"v":0},{"g":"NB6","j":0.32,"v":0},{"g":"NB6","j":0.36,"v":0},{"g":"NB6","j":0.40,"v":0},
{"g":"NB7","j":-0.40,"v":0},{"g":"NB7","j":-0.36,"v":0},{"g":"NB7","j":-0.32,"v":0},{"g":"NB7","j":-0.28,"v":0},{"g":"NB7","j":-0.24,"v":0},{"g":"NB7","j":-0.20,"v":0},{"g":"NB7","j":-0.16,"v":0},{"g":"NB7","j":-0.12,"v":0},{"g":"NB7","j":-0.08,"v":0},{"g":"NB7","j":-0.04,"v":0},{"g":"NB7","j":0.00,"v":0},{"g":"NB7","j":0.04,"v":0},{"g":"NB7","j":0.08,"v":0},{"g":"NB7","j":0.12,"v":0},{"g":"NB7","j":0.16,"v":0},{"g":"NB7","j":0.20,"v":0},{"g":"NB7","j":0.24,"v":0},{"g":"NB7","j":0.28,"v":0},{"g":"NB7","j":0.32,"v":0},{"g":"NB7","j":0.36,"v":0},{"g":"NB7","j":0.40,"v":0},
{"g":"NB8","j":-0.40,"v":0},{"g":"NB8","j":-0.36,"v":0},{"g":"NB8","j":-0.32,"v":0},{"g":"NB8","j":-0.28,"v":0},{"g":"NB8","j":-0.24,"v":0},{"g":"NB8","j":-0.20,"v":0},{"g":"NB8","j":-0.16,"v":0},{"g":"NB8","j":-0.12,"v":0},{"g":"NB8","j":-0.08,"v":0},{"g":"NB8","j":-0.04,"v":0},{"g":"NB8","j":0.00,"v":0},{"g":"NB8","j":0.04,"v":0},{"g":"NB8","j":0.08,"v":0},{"g":"NB8","j":0.12,"v":0},{"g":"NB8","j":0.16,"v":0},{"g":"NB8","j":0.20,"v":0},{"g":"NB8","j":0.24,"v":0},{"g":"NB8","j":0.28,"v":0},{"g":"NB8","j":0.32,"v":0},{"g":"NB8","j":0.36,"v":0},{"g":"NB8","j":0.40,"v":0},
{"g":"NB9","j":-0.40,"v":0},{"g":"NB9","j":-0.36,"v":0},{"g":"NB9","j":-0.32,"v":0},{"g":"NB9","j":-0.28,"v":0},{"g":"NB9","j":-0.24,"v":0},{"g":"NB9","j":-0.20,"v":0},{"g":"NB9","j":-0.16,"v":0},{"g":"NB9","j":-0.12,"v":0},{"g":"NB9","j":-0.08,"v":0},{"g":"NB9","j":-0.04,"v":0},{"g":"NB9","j":0.00,"v":0},{"g":"NB9","j":0.04,"v":0},{"g":"NB9","j":0.08,"v":0},{"g":"NB9","j":0.12,"v":0},{"g":"NB9","j":0.16,"v":0},{"g":"NB9","j":0.20,"v":0},{"g":"NB9","j":0.24,"v":0},{"g":"NB9","j":0.28,"v":0},{"g":"NB9","j":0.32,"v":0},{"g":"NB9","j":0.36,"v":0},{"g":"NB9","j":0.40,"v":0}
]
},
"layer":[
{"data":{"name":"pts"},
 "mark":{"type":"rule","color":"#8a8a8a","strokeWidth":1.3},
 "encoding":{
  "x":{"field":"g","type":"nominal","sort":["NB1","NB2","NB3","NB4","NB5","NB6","NB7","NB8","NB9","NB10","NB11","NB12"],"scale":{"type":"band","paddingInner":0,"paddingOuter":0.1},"axis":{"title":"Identity","labelFont":"Liberation Sans","labelFontSize":11.5,"labelColor":"black","labelAngle":0,"labelPadding":2,"tickSize":4,"tickColor":"black","tickWidth":1,"domainColor":"black","domainWidth":1,"grid":false,"titleFont":"Liberation Sans","titleFontSize":15,"titleFontWeight":"bold","titleColor":"#990000","titlePadding":4}},
  "y":{"aggregate":"min","field":"v","type":"quantitative","scale":{"domain":[-0.143,2.987],"nice":false,"zero":false},"axis":{"title":null,"values":[0,1,2],"format":"d","labelFont":"Liberation Sans","labelFontSize":11.5,"labelColor":"black","labelPadding":2,"tickSize":4,"tickColor":"black","tickWidth":1,"domainColor":"black","domainWidth":1,"grid":false}},
  "y2":{"aggregate":"max","field":"v"}
 }},
{"data":{"name":"vln"},
 "mark":{"type":"area","orient":"horizontal","interpolate":"monotone","fill":"#6f6f6f","stroke":"#333333","strokeWidth":0.8},
 "encoding":{
  "y":{"field":"v","type":"quantitative"},
  "x":{"field":"lo","type":"quantitative","scale":{"domain":[0.4,12.6],"nice":false,"zero":false},"axis":null},
  "x2":{"field":"hi"}
 }},
{"data":{"name":"pts"},
 "mark":{"type":"circle","size":13,"color":"black","opacity":1},
 "encoding":{
  "x":{"field":"g","type":"nominal","sort":["NB1","NB2","NB3","NB4","NB5","NB6","NB7","NB8","NB9","NB10","NB11","NB12"],"scale":{"type":"band","paddingInner":0,"paddingOuter":0.1},"axis":null},
  "xOffset":{"field":"j","type":"quantitative","scale":{"domain":[-0.5,0.5]}},
  "y":{"field":"v","type":"quantitative"}
 }}
],
"resolve":{"scale":{"x":"independent"}}
}
